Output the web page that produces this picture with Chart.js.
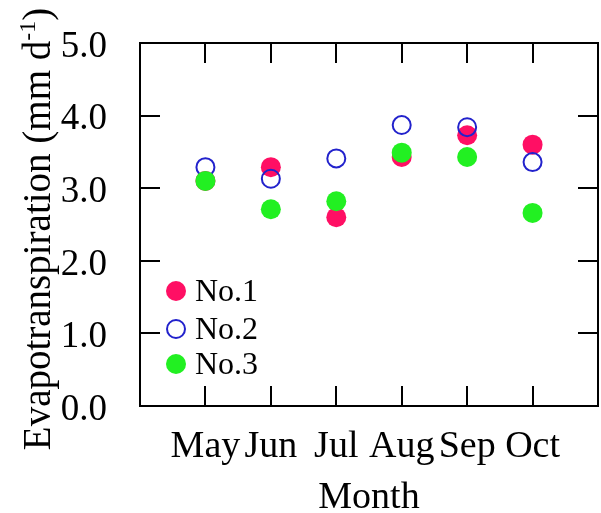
<!DOCTYPE html>
<html>
<head>
<meta charset="utf-8">
<script src="https://cdn.jsdelivr.net/npm/chart.js@4.4.0/dist/chart.umd.min.js"></script>
<style>
  html, body { margin: 0; padding: 0; background: #fff; }
  canvas { display: block; }
</style>
</head>
<body>
<canvas id="et_chart" width="601" height="513"></canvas>
<script>
const months = ['May', 'Jun', 'Jul', 'Aug', 'Sep', 'Oct'];
const no1 = [3.10, 3.29, 2.60, 3.43, 3.73, 3.60];
const no2 = [3.29, 3.13, 3.41, 3.87, 3.84, 3.36];
const no3 = [3.10, 2.71, 2.82, 3.49, 3.43, 2.66];
const yTicks = [0, 1, 2, 3, 4, 5];

const serif = "'Liberation Serif', 'Times New Roman', serif";

function points(values) {
    return values.map((v, i) => ({ x: i + 1, y: v }));
}

// frame with inward ticks, legend inside the plot, y title with superscript
const framePlugin = {
    id: 'frame',
    afterDraw(chart) {
        const { ctx, chartArea: a, scales } = chart;
        const tl = 20;
        ctx.save();
        ctx.strokeStyle = '#000';
        ctx.lineWidth = 2;
        ctx.strokeRect(a.left, a.top, a.right - a.left, a.bottom - a.top);
        ctx.beginPath();
        months.forEach((m, i) => {
            const x = Math.round(scales.x.getPixelForValue(i + 1));
            ctx.moveTo(x, a.bottom); ctx.lineTo(x, a.bottom - tl);
            ctx.moveTo(x, a.top); ctx.lineTo(x, a.top + tl);
        });
        yTicks.forEach(v => {
            const y = Math.round(scales.y.getPixelForValue(v));
            ctx.moveTo(a.left, y); ctx.lineTo(a.left + tl, y);
            ctx.moveTo(a.right, y); ctx.lineTo(a.right - tl, y);
        });
        ctx.stroke();

        // legend
        const rows = [291, 329, 364];
        ctx.font = '32px ' + serif;
        ctx.textBaseline = 'middle';
        ctx.textAlign = 'left';
        chart.data.datasets.forEach((ds, i) => {
            const cx = 176, cy = rows[i];
            ctx.beginPath();
            ctx.arc(cx, cy, ds.pointBorderWidth > 0 ? 9 : 10, 0, Math.PI * 2);
            if (ds.pointBorderWidth > 0) {
                ctx.lineWidth = ds.pointBorderWidth;
                ctx.strokeStyle = ds.pointBorderColor;
                ctx.stroke();
            } else {
                ctx.fillStyle = ds.pointBackgroundColor;
                ctx.fill();
            }
            ctx.fillStyle = '#000';
            ctx.fillText(ds.label, 195, cy + 2);
        });

        // y axis title
        const main = 'Evapotranspiration (mm d';
        const sup = '-1';
        const tail = ')';
        ctx.font = '39px ' + serif;
        const wMain = ctx.measureText(main).width;
        const wTail = ctx.measureText(tail).width;
        ctx.font = '24px ' + serif;
        const wSup = ctx.measureText(sup).width;
        const total = wMain + wSup + wTail;
        ctx.translate(50, 229);
        ctx.rotate(-Math.PI / 2);
        ctx.textBaseline = 'alphabetic';
        ctx.fillStyle = '#000';
        let x = -total / 2;
        ctx.font = '39px ' + serif;
        ctx.fillText(main, x, 0);
        x += wMain;
        ctx.font = '24px ' + serif;
        ctx.fillText(sup, x, -15);
        x += wSup;
        ctx.font = '39px ' + serif;
        ctx.fillText(tail, x, 0);
        ctx.restore();
    }
};

const ctx = document.getElementById('et_chart').getContext('2d');
const chart = new Chart(ctx, {
    type: 'scatter',
    data: {
        datasets: [{
            label: 'No.1',
            data: points(no1),
            pointBackgroundColor: '#ff0f64',
            pointBorderColor: '#ff0f64',
            pointBorderWidth: 0,
            pointRadius: 10,
            order: 2
        }, {
            label: 'No.2',
            data: points(no2),
            pointBackgroundColor: 'rgba(0,0,0,0)',
            pointBorderColor: '#2222cc',
            pointBorderWidth: 2,
            pointRadius: 9,
            order: 1
        }, {
            label: 'No.3',
            data: points(no3),
            pointBackgroundColor: '#22f022',
            pointBorderColor: '#22f022',
            pointBorderWidth: 0,
            pointRadius: 10,
            order: 0
        }]
    },
    options: {
        responsive: false,
        animation: false,
        layout: { autoPadding: false, padding: { left: 0, top: 43, right: 3, bottom: 0 } },
        plugins: { legend: { display: false }, tooltip: { enabled: false } },
        scales: {
            x: {
                type: 'linear',
                min: 0,
                max: 7,
                afterBuildTicks(scale) {
                    scale.ticks = [0, 1, 2, 3, 4, 5, 6, 7].map(v => ({ value: v }));
                },
                afterFit(scale) {
                    scale.height = 107;
                    scale.paddingLeft = 0;
                    scale.paddingRight = 0;
                },
                grid: { display: false, drawTicks: false },
                border: { display: false },
                ticks: {
                    padding: 18,
                    color: '#000',
                    font: { family: serif, size: 38 },
                    maxRotation: 0,
                    autoSkip: false,
                    callback: v => months[v - 1] || ''
                },
                title: {
                    display: true,
                    text: 'Month',
                    color: '#000',
                    font: { family: serif, size: 38 },
                    padding: { top: 0, bottom: -8 }
                }
            },
            y: {
                min: 0,
                max: 5,
                afterBuildTicks(scale) {
                    scale.ticks = yTicks.map(v => ({ value: v }));
                },
                afterFit(scale) {
                    scale.width = 140;
                    scale.paddingTop = 0;
                    scale.paddingBottom = 0;
                },
                grid: { display: false, drawTicks: false },
                border: { display: false },
                ticks: {
                    padding: 33,
                    labelOffset: 4,
                    color: '#000',
                    font: { family: serif, size: 37 },
                    callback: v => v.toFixed(1)
                }
            }
        }
    },
    plugins: [framePlugin]
});
</script>
</body>
</html>
